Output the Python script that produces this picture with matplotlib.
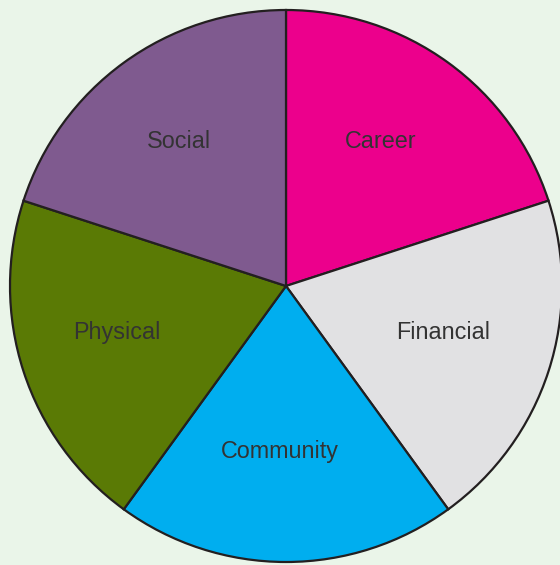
import matplotlib.pyplot as plt

# Life areas, equal shares, clockwise from the top
labels = ['Career', 'Financial', 'Community', 'Physical', 'Social']
shares = [1, 1, 1, 1, 1]
colors = ['#ec008c', '#e1e1e3', '#00aeef', '#5a7a05', '#7f5a8f']

fig = plt.figure(figsize=(5.6, 5.65), dpi=100, facecolor='#eaf5e9')
ax = fig.add_axes([0, 0, 1, 1])
ax.set_facecolor('#eaf5e9')

wedges, texts = ax.pie(shares, labels=labels, colors=colors, startangle=90,
                       counterclock=False, labeldistance=0.62, radius=1.0,
                       wedgeprops=dict(edgecolor='#231f20', linewidth=1.6),
                       textprops=dict(fontsize=16.8, color='#333333',
                                      family='Liberation Sans'))

# pie is cropped by the frame: centre at (286, 286) px, radius 276 px
r = 276
# labels sit a little up and left of the wedge centres in the original
for t in texts:
    t.set_horizontalalignment('center')
    t.set_verticalalignment('center')
    x, y = t.get_position()
    t.set_position((x - 6 / r, y + 6 / r))

ax.set_xlim(-286 / r, (560 - 286) / r)
ax.set_ylim(-(565 - 286) / r, 286 / r)
ax.set_aspect('equal')
ax.axis('off')

plt.savefig('out.png', dpi=100, facecolor=fig.get_facecolor())
